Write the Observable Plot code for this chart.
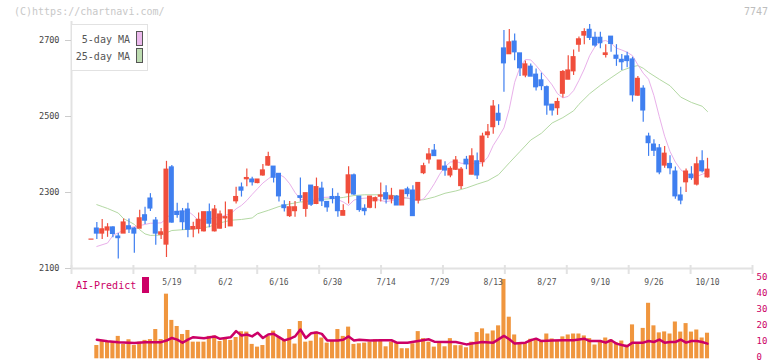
<!DOCTYPE html>
<html><head><meta charset="utf-8">
<script src="https://cdn.jsdelivr.net/npm/d3@7"></script>
<script src="https://cdn.jsdelivr.net/npm/@observablehq/plot@0.6"></script>
<style>
body{margin:0;background:#fff;}
#wrap{position:relative;width:772px;height:361px;background:#fff;overflow:hidden;font-family:"DejaVu Sans Mono",monospace;}
#wrap svg{position:absolute;left:0;}
.t{position:absolute;white-space:pre;line-height:12px;}
</style></head><body>
<div id="wrap"></div>
<script>
// ---- data ----
const open  = [2176,2205,2192,2200,2208,2184,2192,2211,2205,2205,2240,2284,2226,2189,2163,2366,2249,2250,2255,2203,2204,2198,2248,2198,2205,2232,2211,2277,2313,2335,2334,2325,2345,2371,2368,2349,2266,2238,2251,2290,2257,2318,2270,2310,2275,2288,2288,2239,2298,2345,2289,2257,2260,2277,2289,2298,2282,2289,2266,2308,2305,2279,2351,2387,2410,2360,2368,2345,2360,2317,2386,2347,2382,2380,2451,2472,2507,2679,2664,2697,2666,2608,2631,2610,2595,2577,2531,2522,2560,2597,2619,2689,2713,2728,2707,2707,2662,2710,2660,2649,2658,2650,2555,2573,2447,2426,2416,2371,2375,2355,2292,2327,2347,2321,2382,2340];
const high  = [2176,2221,2229,2218,2210,2192,2230,2230,2208,2253,2261,2297,2234,2205,2382,2371,2272,2258,2272,2222,2246,2248,2270,2266,2251,2275,2253,2314,2325,2362,2340,2334,2374,2406,2368,2349,2278,2276,2276,2338,2298,2318,2338,2327,2275,2310,2298,2268,2368,2349,2289,2268,2289,2288,2325,2318,2311,2292,2305,2314,2318,2325,2377,2416,2426,2384,2381,2368,2395,2366,2395,2415,2404,2456,2479,2542,2531,2726,2729,2717,2666,2646,2638,2625,2614,2580,2531,2548,2621,2660,2675,2709,2731,2742,2722,2722,2689,2710,2689,2663,2669,2656,2605,2581,2456,2439,2426,2421,2397,2367,2314,2362,2368,2393,2410,2390];
const low   = [2176,2176,2176,2182,2181,2125,2192,2192,2140,2205,2216,2250,2161,2176,2129,2219,2232,2200,2181,2181,2191,2196,2207,2196,2204,2205,2211,2270,2288,2315,2317,2323,2343,2369,2325,2275,2249,2234,2235,2275,2235,2263,2268,2263,2248,2270,2235,2239,2270,2292,2248,2239,2257,2257,2275,2270,2270,2266,2266,2288,2238,2270,2347,2375,2396,2360,2343,2339,2358,2308,2360,2347,2334,2367,2442,2453,2476,2564,2664,2647,2605,2602,2606,2567,2568,2503,2501,2503,2549,2597,2608,2669,2689,2700,2682,2678,2654,2669,2632,2621,2628,2538,2553,2485,2395,2395,2347,2364,2347,2282,2268,2300,2332,2317,2351,2338];
const close = [2176,2192,2203,2208,2191,2180,2221,2203,2192,2232,2226,2258,2192,2195,2360,2221,2241,2222,2202,2209,2228,2248,2218,2255,2242,2235,2253,2288,2305,2338,2327,2334,2358,2393,2339,2290,2259,2261,2261,2286,2298,2268,2314,2277,2261,2283,2251,2251,2345,2295,2254,2251,2289,2285,2292,2282,2290,2266,2305,2296,2238,2325,2369,2400,2396,2384,2358,2362,2384,2360,2374,2395,2345,2447,2458,2526,2489,2640,2695,2669,2627,2637,2605,2577,2580,2529,2516,2538,2617,2621,2656,2703,2722,2707,2687,2693,2666,2691,2652,2643,2646,2556,2599,2516,2430,2410,2353,2402,2364,2290,2279,2355,2338,2374,2356,2360];

const ma5Idx = [1,3,4,5,7,9,11,13,14,15,16,18,19,20,22,24,26,27,28,29,30,31,32,33,34,35,36,37,38,39,40,41,43,45,47,48,49,50,52,54,55,57,59,60,61,62,63,64,65,66,67,68,69,70,72,73,74,75,76,77,78,79,80,81,82,83,84,85,86,87,88,89,90,91,92,93,94,95,96,97,98,99,100,101,102,103,104,105,106,107,108,109,110,111,112,113,114,115];
const ma5    = [2158,2167,2187,2194,2207,2213,2219,2220,2231,2248,2250,2251,2240,2226,2230,2236,2244,2257,2266,2279,2295,2310,2325,2336,2346,2348,2340,2323,2300,2282,2280,2278,2287,2288,2275,2266,2280,2284,2286,2279,2276,2281,2286,2281,2279,2283,2301,2323,2348,2368,2380,2382,2377,2376,2376,2378,2393,2424,2446,2470,2520,2590,2630,2650,2649,2634,2617,2601,2583,2560,2549,2553,2568,2595,2625,2660,2684,2697,2700,2693,2680,2675,2669,2660,2636,2614,2598,2555,2500,2448,2408,2380,2360,2349,2345,2342,2348,2353];
const ma25Idx = [1,2,3,5,6,7,8,9,10,11,13,14,15,17,20,22,24,26,28,30,31,33,35,37,39,41,43,45,47,49,51,54,56,58,60,61,62,64,66,68,70,72,74,76,78,80,82,84,86,88,90,91,93,95,97,99,101,102,103,104,106,108,110,112,114,115];
const ma25    = [2268,2263,2258,2246,2231,2224,2216,2202,2191,2187,2188,2194,2200,2202,2205,2210,2220,2227,2229,2233,2244,2253,2263,2270,2275,2277,2282,2284,2287,2292,2294,2294,2293,2288,2282,2280,2281,2288,2298,2304,2312,2322,2331,2347,2378,2408,2438,2456,2483,2497,2515,2532,2560,2582,2602,2621,2631,2634,2627,2616,2598,2581,2551,2537,2527,2513];

const volume = [null,8.3,11.5,10.4,10.8,14,9,11.9,8.3,10.4,11.5,12,18.3,12,40.4,24,20.2,15.2,17.7,10.4,10.4,10.4,14,14.2,10.8,12.5,11.5,13.3,16.9,16.7,9,7.3,8.3,14,17.3,13.5,11.5,18.3,9.2,23.3,10.4,11,16.7,13,9.8,10.8,18.3,14,19.8,9,9.4,9.8,10.4,11.9,11.5,7.5,10.4,10,6.3,6.3,9.4,17,12.6,10.4,7.3,10,7.5,12.6,8.2,8.2,6.9,10.4,16.4,18.7,15.5,17.4,20.6,49.6,26,14.9,9.4,10,12.2,12.2,11.5,15.5,12.4,11.1,13.7,14.9,15.5,15.5,14.3,12.6,8.6,11.1,13,11.8,10,11.1,8.5,21.2,10,19,34.7,20.6,16.2,16.8,15.5,23,16.7,22,16.7,18,13,16];

const aiIdx = [1,3,5,8,10,13,14,15,16,17,18,19,21,23,24,26,27,28,29,30,31,32,33,34,36,37,38,39,40,41,42,43,44,46,47,48,49,50,52,54,56,57,59,61,63,64,66,68,70,71,73,75,77,78,79,81,82,83,84,86,88,90,92,93,95,96,97,98,99,100,101,103,104,105,106,107,108,109,110,111,112,113,114,115];
const aiVal = [11.9,11,10.4,9.8,10.4,10.4,11.4,13,12,10,12,13.5,12.9,14,12.5,13.5,17.3,14.6,15.2,14,16.3,13,15.2,15.6,11.5,12.5,14,18.3,13,16,16.5,15.6,11.5,11.5,11.9,14,11.5,11.9,11.5,11.6,11.6,10.1,10.1,11.1,12.2,10.7,10.5,10.5,9,9.5,10.5,10.1,14.3,12.2,9.5,10.1,11.6,12.6,11.1,11.4,11.6,11.6,12.6,11.1,11.1,10.1,11.6,9.5,8.6,7.8,10.1,10.1,11.1,10.5,12,10.1,10.5,10.5,12,10.1,11.1,11.1,10.5,9.5];

const dateIdx = [15,25,35,45,55,65,75,85,95,105,115];
const dateLabels = ["5/19","6/2","6/16","6/30","7/14","7/29","8/13","8/27","9/10","9/26","10/10"];
const priceTicks = [2100,2300,2500,2700];
const volTicks = [0,10,20,30,40,50];

// ---- layout ----
const W = 772, ML = 71, MR = 20;
const xDomain = [-3.73, 123.4];
const xTicks = d3.range(12).map(k => xDomain[0] + k * (xDomain[1] - xDomain[0]) / 11);
const idx = d3.range(open.length);
const RED = "#f04e3c", BLUE = "#3f7ff0";
const col = i => close[i] >= open[i] ? RED : BLUE;
const font = "DejaVu Sans Mono, monospace";

const price = Plot.plot({
  width: W, height: 276,
  marginLeft: ML, marginRight: MR, marginTop: 21, marginBottom: 8,
  style: {background: "transparent", overflow: "visible", fontFamily: font},
  x: {domain: xDomain},
  y: {domain: [2100, 2750]},
  marks: [
    Plot.ruleX([xDomain[0]], {stroke: "#e2e2e2", strokeWidth: 2}),
    Plot.ruleY([2100], {stroke: "#e2e2e2", strokeWidth: 2}),
    Plot.axisX({ticks: xTicks, tickSize: 9, dy: -3, tickFormat: () => "", stroke: "#e2e2e2", strokeWidth: 2, label: null}),
    Plot.axisY({ticks: priceTicks, tickFormat: d => String(d), tickSize: 6, tickPadding: 6, fontSize: 8.5, stroke: "#cccccc", fill: "#444", label: null}),
    Plot.line(ma25Idx, {x: (d, i) => d, y: (d, i) => ma25[i], stroke: "#b4d9a4", strokeWidth: 1}),
    Plot.line(ma5Idx, {x: (d, i) => d, y: (d, i) => ma5[i], stroke: "#e9b0ea", strokeWidth: 1}),
    Plot.ruleX(idx, {x: i => i, y1: i => low[i], y2: i => high[i], stroke: col, strokeWidth: 1.2}),
    Plot.rect(idx, {x1: i => i - 0.47, x2: i => i + 0.47, y1: i => open[i], y2: i => close[i], fill: col, insetTop: -0.6, insetBottom: -0.6})
  ]
});
price.style.top = "0px";

const volIdx = idx.filter(i => volume[i] != null);
const vol = Plot.plot({
  width: W, height: 89,
  marginLeft: ML, marginRight: MR, marginTop: 6.3, marginBottom: 2.7,
  style: {background: "transparent", overflow: "visible", fontFamily: font},
  x: {domain: xDomain, axis: null},
  y: {domain: [0, 50]},
  marks: [
    Plot.axisY({anchor: "right", ticks: volTicks, tickSize: 0, tickPadding: 4, dy: -2, fontSize: 9, fill: "#cc0066", label: null}),
    Plot.rect(volIdx, {x1: i => i - 0.38, x2: i => i + 0.38, y1: i => 0, y2: i => volume[i], fill: "#f0963e"}),
    Plot.line(aiIdx, {x: (d, i) => d, y: (d, i) => aiVal[i], stroke: "#cc0066", strokeWidth: 2.5}),
    Plot.text(dateIdx, {x: (d, i) => d, text: (d, i) => dateLabels[i], frameAnchor: "top", lineAnchor: "top", dy: 1, fontSize: 8, fill: "#555"})
  ]
});
vol.style.top = "272px";

const wrap = document.getElementById("wrap");
wrap.appendChild(price);
wrap.appendChild(vol);

function addDiv(html, css) {
  const d = document.createElement("div");
  d.className = "t";
  d.textContent = html;
  d.style.cssText += css;
  wrap.appendChild(d);
  return d;
}
addDiv("(C)https://chartnavi.com/", "left:14px;top:6px;font-size:10px;color:#c8c8c8;");
addDiv("7747", "right:4px;top:6px;font-size:10px;color:#bdbdbd;");
// MA legend box
addDiv("", "left:71px;top:24px;width:77px;height:47px;box-sizing:border-box;border:1.5px solid #e2e2e2;background:#fff;");
addDiv("5-day MA", "right:642px;top:34px;font-size:10px;color:#555;");
addDiv("25-day MA", "right:642px;top:51px;font-size:10px;color:#555;");
addDiv("", "left:136px;top:31px;width:7px;height:15px;box-sizing:border-box;border:1px solid #555;background:#ebb9ec;");
addDiv("", "left:136px;top:48px;width:7px;height:15px;box-sizing:border-box;border:1px solid #555;background:#bddcb1;");
// AI-Predict legend
addDiv("AI-Predict", "left:76px;top:280px;font-size:10px;color:#cc0066;");
addDiv("", "left:142px;top:277px;width:7px;height:16px;background:#cc0066;");
</script>
</body></html>
